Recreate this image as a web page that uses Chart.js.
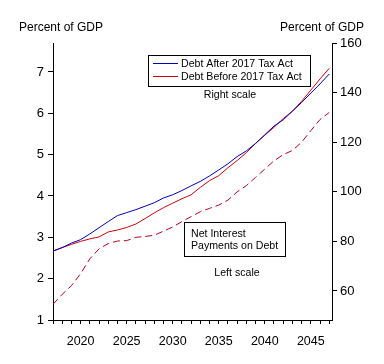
<!DOCTYPE html>
<html>
<head>
<meta charset="utf-8">
<script src="https://cdn.jsdelivr.net/npm/chart.js@4"></script>
<style>
  html, body { margin: 0; padding: 0; background: #fff; }
</style>
</head>
<body>
<canvas id="debt-chart" width="384" height="364"></canvas>
<script>
// data
const years = [2017, 2018, 2019, 2020, 2021, 2022, 2023, 2024, 2025, 2026,
  2027, 2028, 2029, 2030, 2031, 2032, 2033, 2034, 2035, 2036,
  2037, 2038, 2039, 2040, 2041, 2042, 2043, 2044, 2045, 2046, 2047];

// right scale, percent of GDP
const debtAfter = [76.1, 77.5, 79.3, 80.7, 83.0, 85.5, 88.0, 90.4, 91.6, 92.8,
  94.2, 95.6, 97.5, 98.8, 100.5, 102.4, 104.2, 106.4, 108.8, 111.3,
  114.2, 116.5, 119.5, 123.0, 126.5, 129.0, 132.5, 136.0, 139.8, 143.5, 147.5];
const debtBefore = [76.1, 77.5, 78.8, 80.0, 81.0, 81.8, 83.8, 84.6, 85.6, 87.0,
  89.2, 91.5, 93.6, 95.4, 97.2, 98.8, 101.8, 104.5, 106.5, 109.7,
  112.6, 115.8, 119.5, 122.8, 126.0, 129.5, 132.5, 136.5, 141.0, 145.5, 149.8];

// left scale, percent of GDP
const netInterest = [1.38, 1.62, 1.83, 2.12, 2.48, 2.72, 2.85, 2.91, 2.92, 3.0,
  3.02, 3.05, 3.15, 3.25, 3.38, 3.50, 3.62, 3.70, 3.78, 3.90,
  4.10, 4.25, 4.45, 4.65, 4.85, 5.0, 5.1, 5.30, 5.58, 5.85, 6.02];

const leftTicks = [1, 2, 3, 4, 5, 6, 7];
const rightTicks = [60, 80, 100, 120, 140, 160];
const xLabelEvery = 5;

const FONT = "'Liberation Sans', Arial, sans-serif";
Chart.defaults.font.family = FONT;
Chart.defaults.color = '#000';

const toPoints = vals => vals.map((v, i) => ({ x: years[i], y: v }));

// text boxes and axis captions
const annotations = {
  id: 'annotations',
  afterDraw(chart) {
    const ctx = chart.ctx;
    ctx.save();
    ctx.fillStyle = '#000';
    ctx.textBaseline = 'middle';
    ctx.font = '12px ' + FONT;
    ctx.textAlign = 'left';
    ctx.fillText('Percent of GDP', 19, 28);
    ctx.textAlign = 'right';
    ctx.fillText('Percent of GDP', 364, 28);

    // legend for the two debt lines
    ctx.strokeStyle = '#000';
    ctx.lineWidth = 1;
    ctx.fillStyle = '#fff';
    ctx.fillRect(148.5, 55.5, 162, 31);
    ctx.strokeRect(148.5, 55.5, 162, 31);
    const items = [
      { label: 'Debt After 2017 Tax Act', color: chart.data.datasets[0].borderColor, y: 63.5 },
      { label: 'Debt Before 2017 Tax Act', color: chart.data.datasets[1].borderColor, y: 76.5 }
    ];
    ctx.font = '10.6px ' + FONT;
    ctx.textAlign = 'left';
    items.forEach(it => {
      ctx.strokeStyle = it.color;
      ctx.beginPath();
      ctx.moveTo(153, it.y);
      ctx.lineTo(178, it.y);
      ctx.stroke();
      ctx.fillStyle = '#000';
      ctx.fillText(it.label, 181, it.y + 0.5);
    });
    ctx.textAlign = 'center';
    ctx.fillText('Right scale', 230, 95);

    // net interest note
    ctx.strokeStyle = '#000';
    ctx.fillStyle = '#fff';
    ctx.fillRect(184.5, 222.5, 101, 34);
    ctx.strokeRect(184.5, 222.5, 101, 34);
    ctx.fillStyle = '#000';
    ctx.textAlign = 'left';
    ctx.fillText('Net Interest', 191, 234);
    ctx.fillText('Payments on Debt', 191, 246);
    ctx.textAlign = 'center';
    ctx.fillText('Left scale', 237, 273);
    ctx.restore();
  }
};

new Chart(document.getElementById('debt-chart'), {
  type: 'line',
  data: {
    datasets: [{
      label: 'Debt After 2017 Tax Act',
      data: toPoints(debtAfter),
      yAxisID: 'yRight',
      borderColor: '#0000b0',
      borderWidth: 1
    }, {
      label: 'Debt Before 2017 Tax Act',
      data: toPoints(debtBefore),
      yAxisID: 'yRight',
      borderColor: '#cc0010',
      borderWidth: 1
    }, {
      label: 'Net Interest Payments on Debt',
      data: toPoints(netInterest),
      yAxisID: 'yLeft',
      borderColor: '#b00020',
      borderWidth: 1,
      borderDash: [7, 4]
    }]
  },
  options: {
    responsive: false,
    animation: false,
    events: [],
    elements: { point: { radius: 0 }, line: { tension: 0 } },
    layout: { padding: { top: 43, left: 0, right: 0, bottom: 0 } },
    plugins: { legend: { display: false }, tooltip: { enabled: false } },
    scales: {
      x: {
        type: 'linear',
        min: years[0],
        max: 2047.3,
        afterBuildTicks: s => { s.ticks = years.map(v => ({ value: v })); },
        afterFit: s => { s.height = 44; },
        border: { display: true, color: '#000' },
        grid: { drawOnChartArea: false, tickLength: 4, color: '#000' },
        ticks: {
          autoSkip: false,
          maxRotation: 0,
          padding: 10,
          font: { size: 12.5 },
          callback: v => (v % xLabelEvery === 0 ? String(v) : '')
        }
      },
      yLeft: {
        position: 'left',
        min: 1,
        max: 7.7,
        afterBuildTicks: s => { s.ticks = leftTicks.map(v => ({ value: v })); },
        afterFit: s => { s.width = 53; },
        border: { display: true, color: '#000' },
        grid: { drawOnChartArea: false, tickLength: 5, color: '#000' },
        ticks: { padding: 4, font: { size: 13 } }
      },
      yRight: {
        position: 'right',
        min: 48.3,
        max: 160,
        afterBuildTicks: s => { s.ticks = rightTicks.map(v => ({ value: v })); },
        afterFit: s => { s.width = 52; },
        border: { display: true, color: '#000' },
        grid: { drawOnChartArea: false, tickLength: 5, color: '#000' },
        ticks: { padding: 3, font: { size: 13 } }
      }
    }
  },
  plugins: [annotations]
});
</script>
</body>
</html>
